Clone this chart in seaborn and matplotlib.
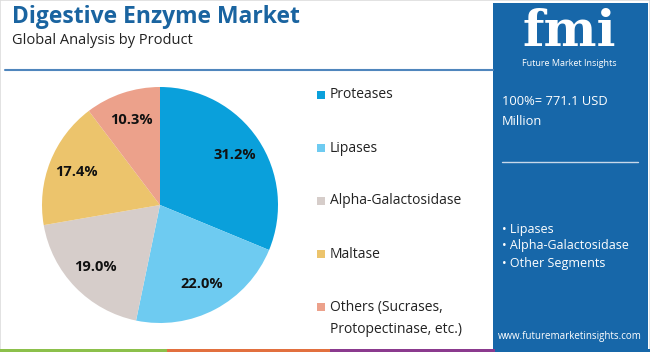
import matplotlib.pyplot as plt
import seaborn as sns
from matplotlib.patches import Rectangle

# chart data
products = ["Proteases", "Lipases", "Alpha-Galactosidase", "Maltase", "Others (Sucrases,\nProtopectinase, etc.)"]
shares = [31.2, 22.0, 19.0, 17.4, 10.3]
slice_colors = ["#0aa0db", "#6ecbf1", "#d6cdca", "#ecc46c", "#eca18b"]
panel_bullets = ["Lipases", "Alpha-Galactosidase", "Other Segments"]
market_total = "100%= 771.1 USD\nMillion"

sns.set_theme(style="white")
plt.rcParams['font.family'] = ['Open Sans', 'DejaVu Sans']

fig = plt.figure(figsize=(6.5, 3.52), dpi=100)
W, H = 650, 352


def fx(px):
    return px / W


def fy(py):
    return 1 - py / H


# frame border and header
fig.patches.append(Rectangle((0, 0), 1, 1, transform=fig.transFigure, fill=False,
                             edgecolor="#dddddd", linewidth=1.2))
fig.text(fx(12), fy(17), "Digestive Enzyme Market", fontsize=16.5, fontweight="bold",
         color="#1a64a0", va="center", ha="left")
fig.text(fx(12), fy(41), "Global Analysis by Product", fontsize=10.5, color="#222222",
         va="center", ha="left")
fig.add_artist(plt.Line2D([fx(5), fx(493)], [fy(70), fy(70)], color="#4f86bd", linewidth=1.5))

# right panel
fig.patches.append(Rectangle((fx(493), fy(349)), fx(155), 346 / H, transform=fig.transFigure,
                             facecolor="#1767a9", edgecolor="none"))
fig.text(fx(569), fy(46), "fmi", fontsize=36, fontweight="bold", color="white",
         ha="center", va="baseline", family=["DejaVu Serif"])
fig.text(fx(569), fy(64), "Future Market Insights", fontsize=6.5, color="white",
         ha="center", va="center")
fig.text(fx(502), fy(112), market_total, fontsize=9.3, color="white", ha="left", va="center",
         linespacing=1.7)
fig.add_artist(plt.Line2D([fx(502), fx(638)], [fy(162), fy(162)], color="#c8d8ea", linewidth=1))
for i, b in enumerate(panel_bullets):
    fig.text(fx(502), fy(229 + i * 17), "• " + b, fontsize=9, color="white", ha="left", va="center")
fig.text(fx(570), fy(337), "www.futuremarketinsights.com", fontsize=7, color="white",
         ha="center", va="center")

# bottom strip
strip = [("#8cc04b", 0, 167), ("#e2703f", 167, 330), ("#8b3a8e", 330, 495), ("#1767a9", 495, 650)]
for c, a, b in strip:
    fig.patches.append(Rectangle((fx(a), 0), fx(b - a), 3 / H, transform=fig.transFigure,
                                 facecolor=c, edgecolor="none"))

# pie
ax = fig.add_axes([fx(160 - 118), fy(205 + 118), fx(236), 236 / H])
wedges, texts, autotexts = ax.pie(shares, colors=slice_colors, startangle=90, counterclock=False,
                                  autopct="%.1f%%", pctdistance=0.76,
                                  wedgeprops=dict(linewidth=0))
for t in autotexts:
    t.set_fontsize(10.5)
    t.set_fontweight("bold")
    t.set_color("#111111")
ax.set_xlim(-1, 1)
ax.set_ylim(-1, 1)
ax.set_aspect("equal")
ax.axis("off")

# legend
legend_y = [95, 148, 201, 254, 307]
for lab, c, y in zip(products, slice_colors, legend_y):
    fig.patches.append(Rectangle((fx(317), fy(y + 4)), fx(8), 8 / H, transform=fig.transFigure,
                                 facecolor=c, edgecolor="none"))
    if "\n" in lab:
        fig.text(fx(330), fy(y - 7), lab, fontsize=10, color="#222222", ha="left", va="top",
                 linespacing=1.6)
    else:
        fig.text(fx(330), fy(y), lab, fontsize=10, color="#222222", ha="left", va="center")

fig.savefig("out.png", dpi=100)
